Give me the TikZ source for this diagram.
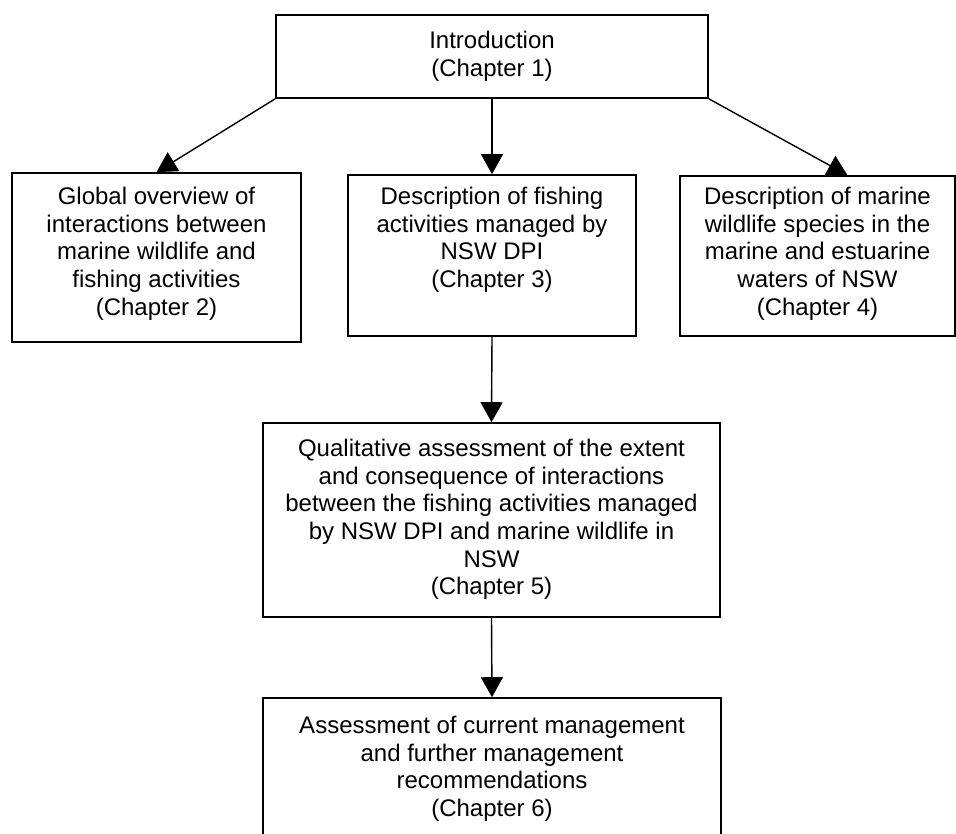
\documentclass[tikz,border=0pt]{standalone}
\usepackage{fontspec}
\setmainfont{Liberation Sans}
\usetikzlibrary{arrows.meta,calc}
\tikzset{
  box/.style={draw=black,line width=1.6pt,rectangle,inner sep=0pt,fill=none},
  txt/.style={anchor=north,inner sep=0pt,align=center,font=\fontsize{24}{27.6}\selectfont},
  conn/.style={line width=1.4pt,-{Triangle[length=20pt,width=22pt]}}
}
\begin{document}
\begin{tikzpicture}[x=1pt,y=-1pt]
\clip (0,0) rectangle (956,834);
\fill[white] (0,0) rectangle (956,834);
% boxes
\node[box,minimum width=432pt,minimum height=83pt] (intro) at (492,56.5) {};
\node[box,minimum width=289pt,minimum height=169pt] (glob) at (156.5,257.5) {};
\node[box,minimum width=288pt,minimum height=161pt] (desc) at (492,255.5) {};
\node[box,minimum width=275pt,minimum height=160pt] (wild) at (817.5,256) {};
\node[box,minimum width=457pt,minimum height=194pt] (qual) at (491.5,520) {};
\node[box,minimum width=458pt,minimum height=200pt] (assess) at (492,798) {};
% texts
\node[txt] (introT) at ($(intro.north)+(0,17)$) {Introduction\\(Chapter 1)};
\node[txt] (globT) at ($(glob.north)+(0,15)$) {Global overview of\\interactions between\\marine wildlife and\\fishing activities\\(Chapter 2)};
\node[txt] (descT) at ($(desc.north)+(0,13)$) {Description of fishing\\activities managed by\\NSW DPI\\(Chapter 3)};
\node[txt] (wildT) at ($(wild.north)+(0,12)$) {Description of marine\\wildlife species in the\\marine and estuarine\\waters of NSW\\(Chapter 4)};
\node[txt] (qualT) at ($(qual.north)+(0,17)$) {Qualitative assessment of the extent\\and consequence of interactions\\between the fishing activities managed\\by NSW DPI and marine wildlife in\\NSW\\(Chapter 5)};
\node[txt] (assessT) at ($(assess.north)+(0,19)$) {Assessment of current management\\and further management\\recommendations\\(Chapter 6)};
% connectors
\coordinate (wildIn) at ($(wild.north)+(30,0)$);
\draw[conn] (intro.south west) -- (glob.north);
\draw[conn] (intro.south) -- (desc.north);
\draw[conn] (intro.south east) -- (wildIn);
\draw[conn] (desc.south) -- (qual.north);
\draw[conn] (qual.south) -- (assess.north);
\end{tikzpicture}
\end{document}
